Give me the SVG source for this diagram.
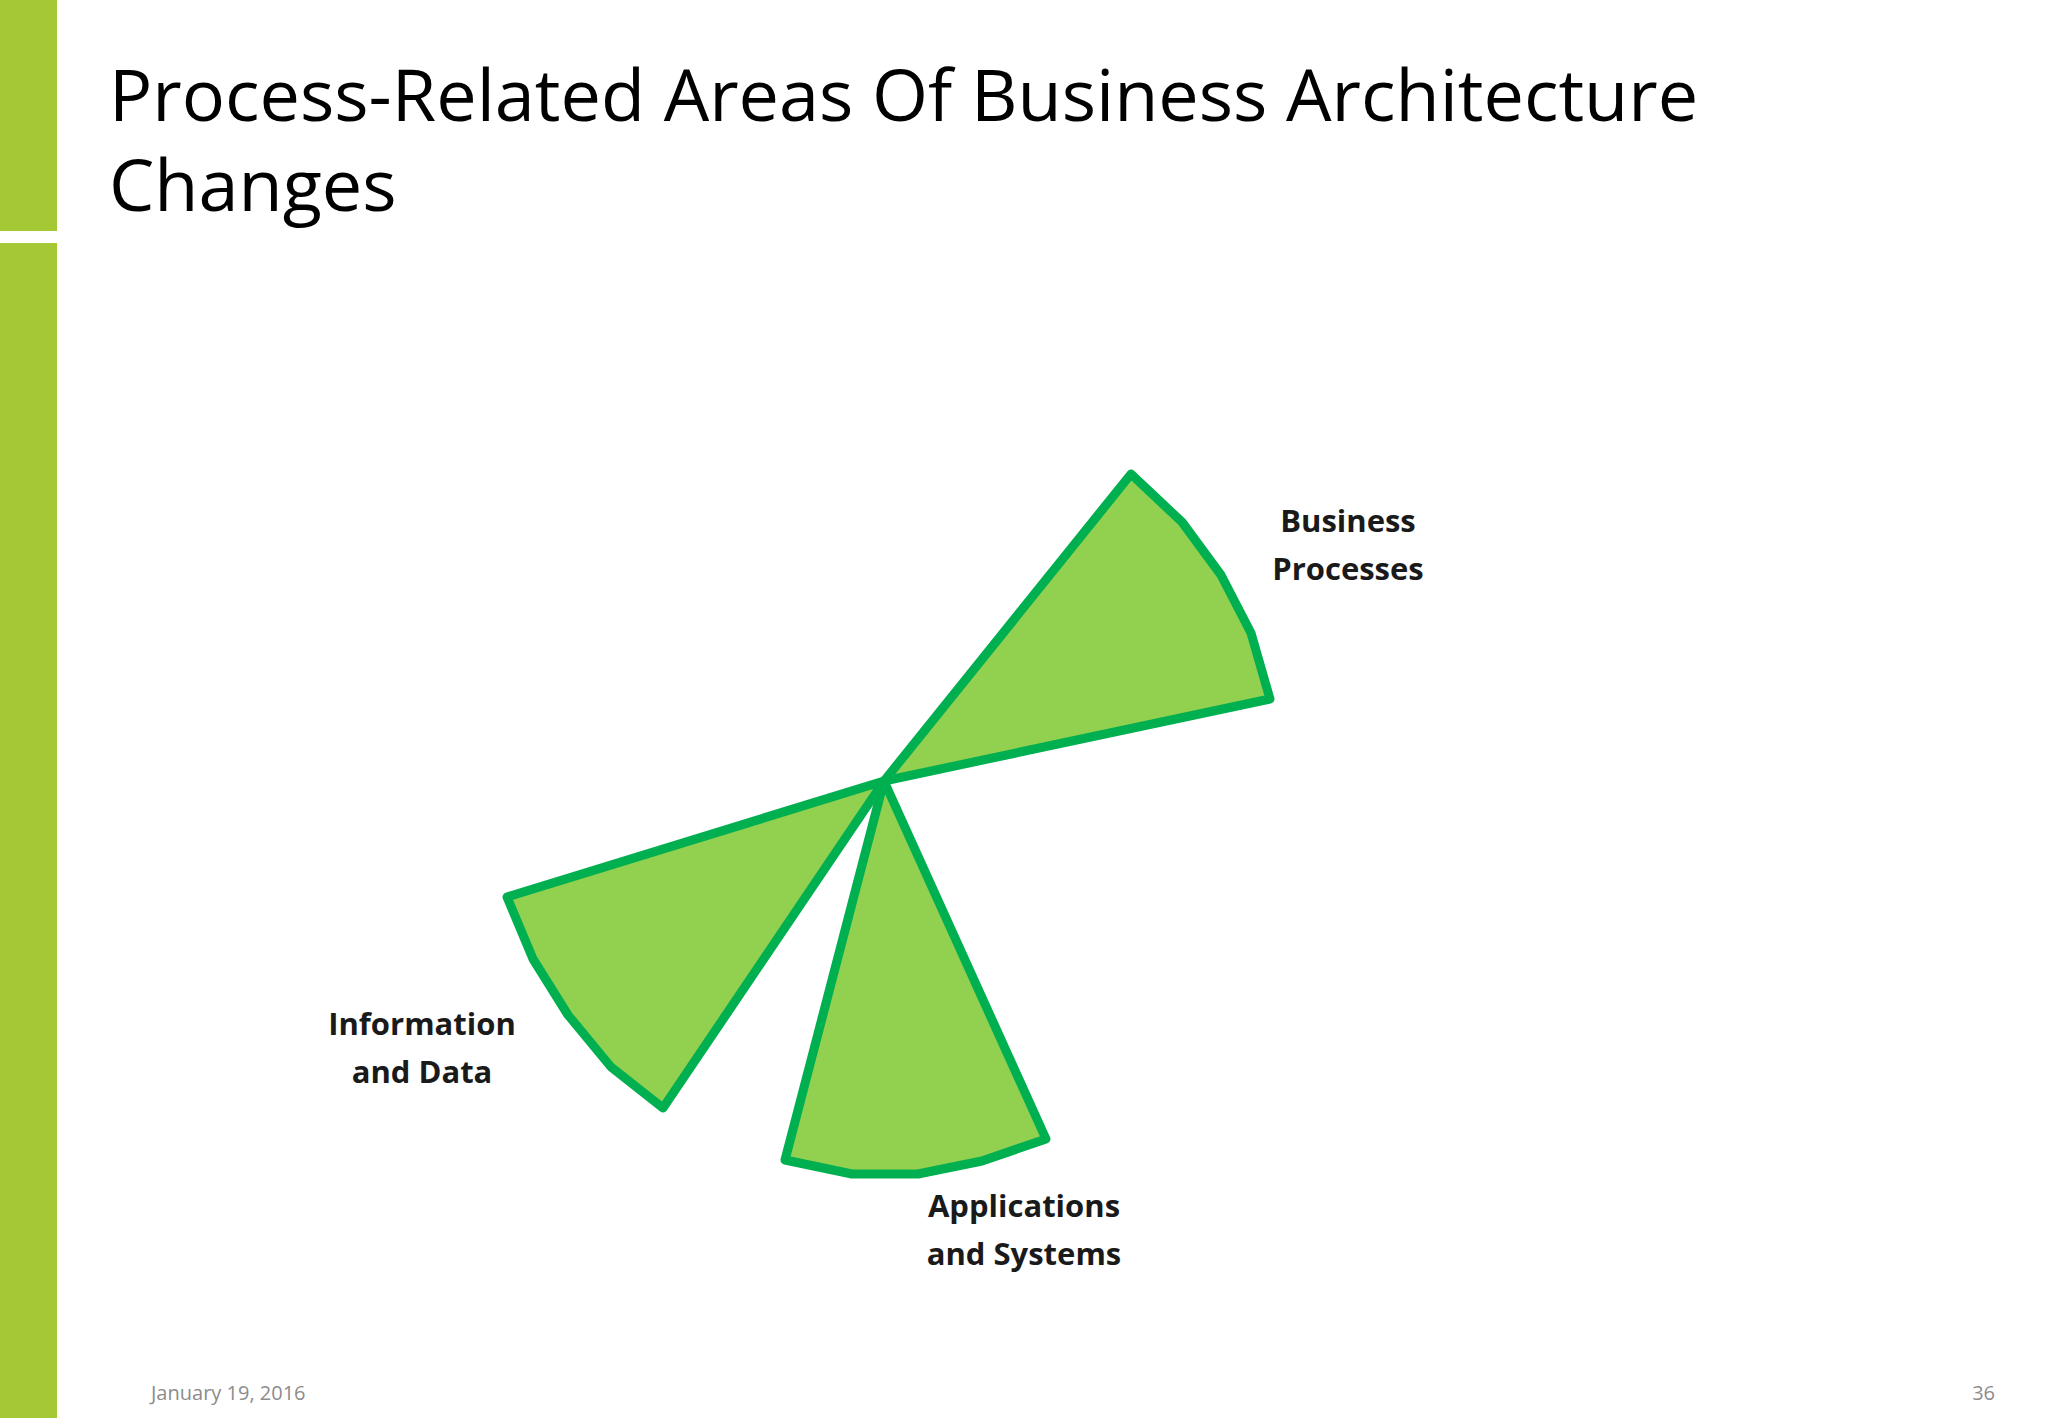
<svg xmlns="http://www.w3.org/2000/svg" width="2048" height="1418" viewBox="0 0 2048 1418">
<style>
.bar{fill:#a5c934}
.title{font-family:"Open Sans","Liberation Sans",sans-serif;font-size:72px;fill:#000}
.wedge{fill:#92d050;stroke:#00b050;stroke-width:9;stroke-linejoin:round}
.lbl{font-family:"Open Sans","Liberation Sans",sans-serif;font-size:31px;font-weight:bold;fill:#1a1a1a;text-anchor:middle}
.foot{font-family:"Open Sans","Liberation Sans",sans-serif;font-size:20px;fill:#8c8c8c}
</style>
<rect class="bar" x="0" y="0" width="57" height="231"/>
<rect class="bar" x="0" y="243" width="57" height="1175"/>
<text class="title" x="109" y="121">Process-Related Areas Of Business Architecture</text>
<text class="title" x="109" y="211">Changes</text>
<g id="connectors"/>
<g id="business-processes">
<polygon class="wedge" points="884,781 1131,474 1182,522 1221,575 1251,633 1270,699"/>
<text class="lbl" x="1348" y="532">Business</text>
<text class="lbl" x="1348" y="580">Processes</text>
</g>
<g id="information-data">
<polygon class="wedge" points="884,781 507,897 533,959 568,1015 611,1067 663,1108"/>
<text class="lbl" x="422" y="1035">Information</text>
<text class="lbl" x="422" y="1083">and Data</text>
</g>
<g id="applications-systems">
<polygon class="wedge" points="884,781 1046,1139 982,1161 918,1174 852,1174 785,1160"/>
<text class="lbl" x="1024" y="1217">Applications</text>
<text class="lbl" x="1024" y="1265">and Systems</text>
</g>
<text class="foot" x="151" y="1400">January 19, 2016</text>
<text class="foot" x="1995" y="1400" text-anchor="end">36</text>
</svg>
